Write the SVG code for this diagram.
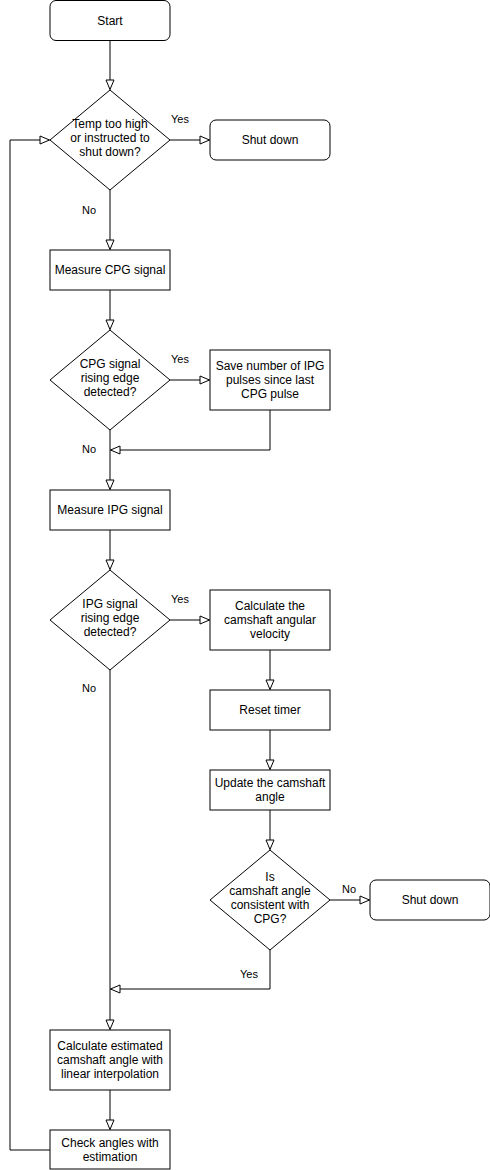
<svg xmlns="http://www.w3.org/2000/svg" width="490" height="1170" viewBox="0 0 490 1170">
<style>
.n{fill:#fff;stroke:#000;stroke-width:1}
.t{font-family:"Liberation Sans",Arial,sans-serif;font-size:12px;fill:#000;text-anchor:middle}
.l{font-family:"Liberation Sans",Arial,sans-serif;font-size:11px;fill:#000;text-anchor:middle}
.c{fill:none;stroke:#000;stroke-width:1}
</style>
<defs>
<marker id="a" markerUnits="userSpaceOnUse" markerWidth="12" markerHeight="12" viewBox="-1 -1 12 12" refX="10" refY="4.5" orient="auto">
<path d="M0.5,0.5 L10,4.5 L0.5,8.5 Z" fill="#fff" stroke="#000" stroke-width="1"/>
</marker>
</defs>
<rect width="490" height="1170" fill="#fff"/>
<g id="connectors">
<path class="c" d="M110,40.5 V89.5" marker-end="url(#a)"/>
<path class="c" d="M170,140 H209.5" marker-end="url(#a)"/>
<path class="c" d="M110,190 V249.5" marker-end="url(#a)"/>
<path class="c" d="M110,290 V329.5" marker-end="url(#a)"/>
<path class="c" d="M170,380 H209.5" marker-end="url(#a)"/>
<path class="c" d="M270,410 V450 H110.5" marker-end="url(#a)"/>
<path class="c" d="M110,430 V489.5" marker-end="url(#a)"/>
<path class="c" d="M110,530 V569.5" marker-end="url(#a)"/>
<path class="c" d="M170,620 H209.5" marker-end="url(#a)"/>
<path class="c" d="M270,650 V689.5" marker-end="url(#a)"/>
<path class="c" d="M270,730 V769.5" marker-end="url(#a)"/>
<path class="c" d="M270,810 V849.5" marker-end="url(#a)"/>
<path class="c" d="M330,900 H369.5" marker-end="url(#a)"/>
<path class="c" d="M270,950 V989 H110.5" marker-end="url(#a)"/>
<path class="c" d="M110,670 V1029.5" marker-end="url(#a)"/>
<path class="c" d="M110,1090 V1129.5" marker-end="url(#a)"/>
<path class="c" d="M50,1150 H10 V140 H49.5" marker-end="url(#a)"/>
<text class="l" x="180" y="123">Yes</text>
<text class="l" x="89" y="214">No</text>
<text class="l" x="180" y="363">Yes</text>
<text class="l" x="89" y="453">No</text>
<text class="l" x="180" y="603">Yes</text>
<text class="l" x="89" y="692">No</text>
<text class="l" x="349" y="893">No</text>
<text class="l" x="249" y="978">Yes</text>
</g>
<g id="start">
<rect class="n" x="50" y="0.5" width="120" height="40" rx="6"/>
<text class="t" x="110" y="24.5">Start</text>
</g>
<g id="d1">
<path class="n" d="M110,90 L170,140 L110,190 L50,140 Z"/>
<text class="t" x="110" y="128">Temp too high</text>
<text class="t" x="110" y="142">or instructed to</text>
<text class="t" x="110" y="156">shut down?</text>
</g>
<g id="shutdown1">
<rect class="n" x="210" y="120" width="120" height="40" rx="6"/>
<text class="t" x="270" y="144">Shut down</text>
</g>
<g id="measurecpg">
<rect class="n" x="50" y="250" width="120" height="40"/>
<text class="t" x="110" y="274">Measure CPG signal</text>
</g>
<g id="d2">
<path class="n" d="M110,330 L170,380 L110,430 L50,380 Z"/>
<text class="t" x="110" y="368">CPG signal</text>
<text class="t" x="110" y="382">rising edge</text>
<text class="t" x="110" y="396">detected?</text>
</g>
<g id="save">
<rect class="n" x="210" y="350" width="120" height="60"/>
<text class="t" x="270" y="370">Save number of IPG</text>
<text class="t" x="270" y="384">pulses since last</text>
<text class="t" x="270" y="398">CPG pulse</text>
</g>
<g id="measureipg">
<rect class="n" x="50" y="490" width="120" height="40"/>
<text class="t" x="110" y="514">Measure IPG signal</text>
</g>
<g id="d3">
<path class="n" d="M110,570 L170,620 L110,670 L50,620 Z"/>
<text class="t" x="110" y="608">IPG signal</text>
<text class="t" x="110" y="622">rising edge</text>
<text class="t" x="110" y="636">detected?</text>
</g>
<g id="calcvel">
<rect class="n" x="210" y="590" width="120" height="60"/>
<text class="t" x="270" y="610">Calculate the</text>
<text class="t" x="270" y="624">camshaft angular</text>
<text class="t" x="270" y="638">velocity</text>
</g>
<g id="reset">
<rect class="n" x="210" y="690" width="120" height="40"/>
<text class="t" x="270" y="714">Reset timer</text>
</g>
<g id="update">
<rect class="n" x="210" y="770" width="120" height="40"/>
<text class="t" x="270" y="787">Update the camshaft</text>
<text class="t" x="270" y="801">angle</text>
</g>
<g id="d4">
<path class="n" d="M270,850 L330,900 L270,950 L210,900 Z"/>
<text class="t" x="270" y="881">Is</text>
<text class="t" x="270" y="895">camshaft angle</text>
<text class="t" x="270" y="909">consistent with</text>
<text class="t" x="270" y="923">CPG?</text>
</g>
<g id="shutdown2">
<rect class="n" x="370" y="880" width="120" height="40" rx="6"/>
<text class="t" x="430" y="904">Shut down</text>
</g>
<g id="calcest">
<rect class="n" x="50" y="1030" width="120" height="60"/>
<text class="t" x="110" y="1050">Calculate estimated</text>
<text class="t" x="110" y="1064">camshaft angle with</text>
<text class="t" x="110" y="1078">linear interpolation</text>
</g>
<g id="check">
<rect class="n" x="50" y="1130" width="120" height="39"/>
<text class="t" x="110" y="1147">Check angles with</text>
<text class="t" x="110" y="1161">estimation</text>
</g>
</svg>
